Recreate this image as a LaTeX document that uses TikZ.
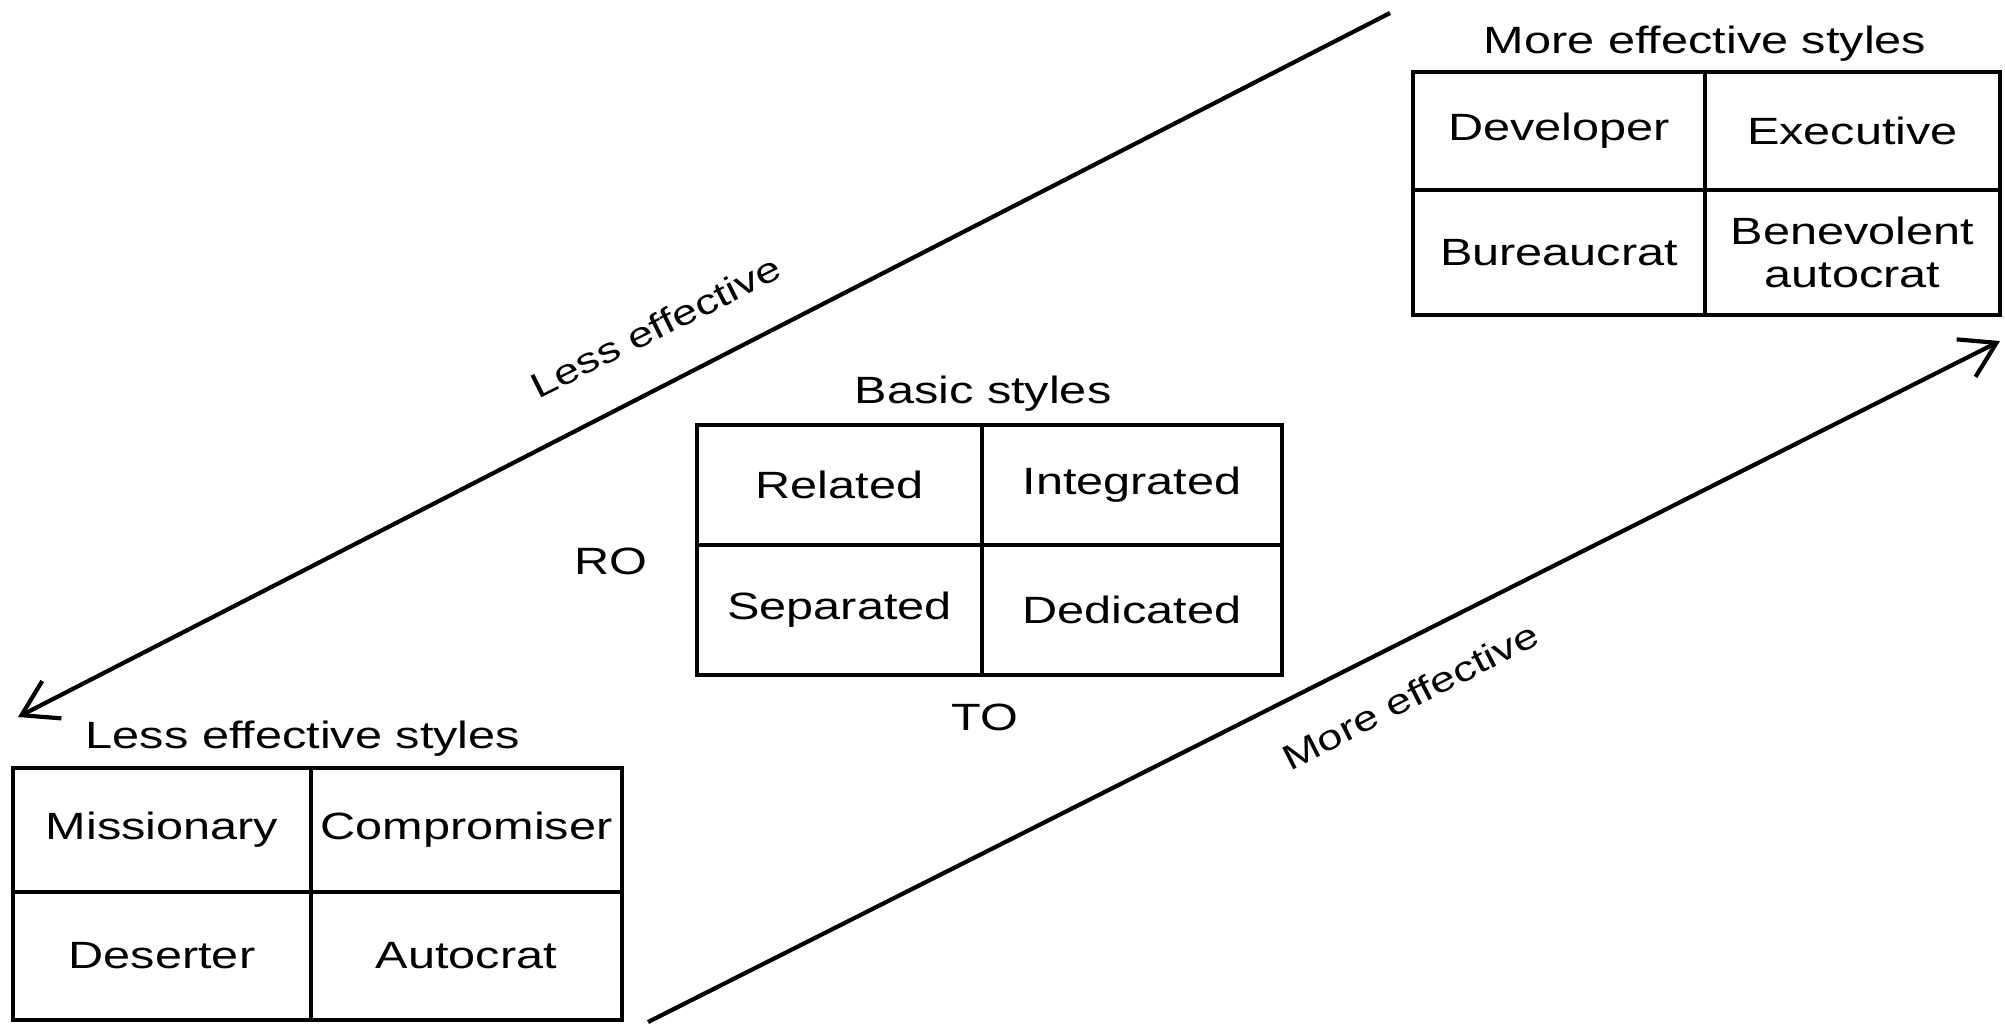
\documentclass[tikz,border=0pt]{standalone}
\usepackage{fontspec}
\setmainfont{Liberation Sans}[FakeStretch=1.28]
\usetikzlibrary{arrows.meta}
\begin{document}
\begin{tikzpicture}[x=0.5pt,y=-0.5pt,
  every node/.style={font=\fontsize{19}{21.5}\selectfont, inner sep=0pt},
  cell/.style={draw, line width=1.8pt, align=center},
  lbl/.style={anchor=base},
  slant/.style={anchor=base, font=\fontsize{17.6}{20}\selectfont},
  arr/.style={line width=2.1pt, -{Straight Barb[length=17pt,width=21pt]}}]
\useasboundingbox[fill=white] (0,0) rectangle (2005,1025);

% Less effective styles table
\node[lbl] (tless) at (303,748) {Less effective styles};
\node[cell, minimum width=149pt, minimum height=62pt] (miss) at (162,830) {Missionary};
\node[cell, minimum width=155.5pt, minimum height=62pt] (comp) at (466.5,830) {Compromiser};
\node[cell, minimum width=149pt, minimum height=64pt] (des) at (162,956) {Deserter};
\node[cell, minimum width=155.5pt, minimum height=64pt] (auto) at (466.5,956) {Autocrat};

% Basic styles table
\node[lbl] (tbasic) at (983,403) {Basic styles};
\node[cell, minimum width=142.5pt, minimum height=60pt] (rel) at (839.5,485) {Related};
\node[cell, minimum width=150pt, minimum height=60pt] (int) at (1132,485) {Integrated};
\node[cell, minimum width=142.5pt, minimum height=65pt] (sep) at (839.5,610) {Separated};
\node[cell, minimum width=150pt, minimum height=65pt] (ded) at (1132,610) {Dedicated};
\node[lbl] (ro) at (611,574) {RO};
\node[lbl] (to) at (985,730) {TO};

% More effective styles table
\node[lbl] (tmore) at (1705,53) {More effective styles};
\node[cell, minimum width=146pt, minimum height=59pt] (dev) at (1559,131) {Developer};
\node[cell, minimum width=147.5pt, minimum height=59pt] (exe) at (1852.5,131) {Executive};
\node[cell, minimum width=146pt, minimum height=62.5pt] (bur) at (1559,252.5) {Bureaucrat};
\node[cell, minimum width=147.5pt, minimum height=62.5pt] (ben) at (1852.5,252.5) {Benevolent\\autocrat};

% Arrows
\coordinate (ls) at (1390,13);
\coordinate (le) at (18,717);
\draw[arr] (ls) -- (le);
\coordinate (ms) at (648,1022);
\coordinate (me) at (2000,341);
\draw[arr] (ms) -- (me);
\node[slant, rotate=26.5] (llab) at (661,338) {Less effective};
\node[slant, rotate=27] (mlab) at (1416,707) {More effective};
\end{tikzpicture}
\end{document}
